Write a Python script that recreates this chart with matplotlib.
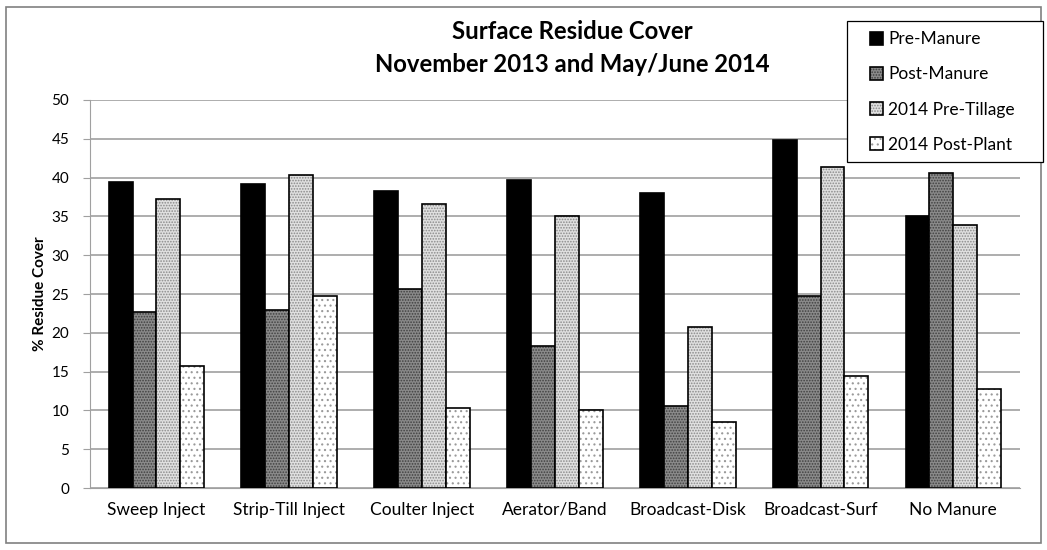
import matplotlib.pyplot as plt
import numpy as np
from matplotlib.patches import Rectangle
from matplotlib.colors import to_rgba

plt.rcParams['font.family'] = ['Lato', 'DejaVu Sans']
plt.rcParams['hatch.linewidth'] = 0.8

categories = ["Sweep Inject", "Strip-Till Inject", "Coulter Inject", "Aerator/Band",
              "Broadcast-Disk", "Broadcast-Surf", "No Manure"]
series_names = ["Pre-Manure", "Post-Manure", "2014 Pre-Tillage", "2014 Post-Plant"]
pre_manure = [39.4, 39.2, 38.3, 39.7, 38.0, 44.9, 35.1]
post_manure = [22.7, 22.9, 25.6, 18.3, 10.6, 24.8, 40.6]
pre_tillage = [37.2, 40.3, 36.6, 35.0, 20.8, 41.4, 33.9]
post_plant = [15.7, 24.8, 10.3, 10.1, 8.5, 14.4, 12.7]

# estilos: (relleno, trama, color de trama)
estilos = [("#000000", None, None),
           ("#8a8a8a", "......", "#404040"),
           ("#e0e0e0", "......", "#8a8a8a"),
           ("#ffffff", "...", "#9a9a9a")]

fig = plt.figure(figsize=(10.47, 5.5), dpi=100)
ax = fig.add_axes([0.086, 0.1127, 0.888, 0.7055])

x = np.arange(len(categories))
w = 0.18
datos = [pre_manure, post_manure, pre_tillage, post_plant]
handles = []
for i, (vals, (fc, hatch, hc)) in enumerate(zip(datos, estilos)):
    bars = ax.bar(x + (i - 1.5) * w, vals, w, color=fc, edgecolor="black",
                  linewidth=1.2, label=series_names[i], zorder=3)
    if hatch:
        for b in bars:
            b.set_hatch(hatch)
            b._hatch_color = to_rgba(hc)
    handles.append(bars)

ax.set_xlim(-0.5, len(categories) - 0.5)
ax.set_ylim(0, 50)
ax.set_yticks(range(0, 51, 5))
ax.set_xticks(x)
ax.set_xticklabels(categories, fontsize=12.5)
ax.tick_params(axis="y", labelsize=11, length=5, color="#a0a0a0", pad=10)
ax.tick_params(axis="x", length=0, pad=10)
ax.yaxis.grid(True, color="#a0a0a0", linewidth=1.2, zorder=0)
for s in ["top", "right"]:
    ax.spines[s].set_visible(False)
ax.spines["left"].set_color("#a0a0a0")
ax.spines["bottom"].set_color("#a0a0a0")
ax.set_ylabel("% Residue Cover", fontsize=11, fontweight="bold", labelpad=3)

fig.text(0.547, 0.913, "Surface Residue Cover\nNovember 2013 and May/June 2014",
         ha="center", va="center", fontsize=17.2, fontweight="bold", linespacing=1.5)

# recuadro de la leyenda (blanco, tapa la cuadrícula)
fig.patches.append(Rectangle((0.809, 0.7055), 0.1872, 0.2564, transform=fig.transFigure,
                             facecolor="white", edgecolor="black", linewidth=0.9,
                             zorder=4))

leg = fig.legend(handles=handles, labels=series_names, loc="upper left",
                 bbox_to_anchor=(0.831, 0.943), fontsize=12.5, frameon=False,
                 handlelength=0.75, handleheight=0.75, handletextpad=0.3,
                 labelspacing=1.1, borderpad=0, borderaxespad=0)
leg.set_zorder(5)

# borde exterior del gráfico
fig.patches.append(Rectangle((0.006, 0.012), 0.988, 0.976, transform=fig.transFigure,
                             fill=False, edgecolor="#808080", linewidth=1.2))

fig.savefig("out.png", dpi=100)
